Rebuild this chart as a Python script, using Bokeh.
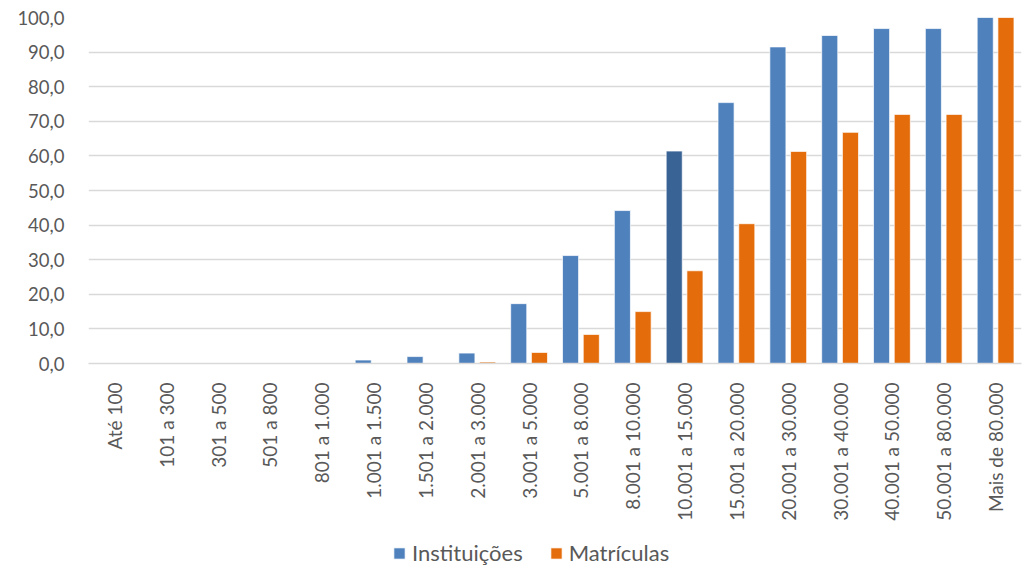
from bokeh.plotting import figure
from bokeh.layouts import column
from bokeh.models import (ColumnDataSource, FactorRange, Legend, LegendItem,
                          FixedTicker, Range1d)
from bokeh.transform import dodge
from bokeh.embed import file_html
from bokeh.resources import INLINE
from math import pi

categories = ["Até 100", "101 a 300", "301 a 500", "501 a 800", "801 a 1.000",
              "1.001 a 1.500", "1.501 a 2.000", "2.001 a 3.000", "3.001 a 5.000",
              "5.001 a 8.000", "8.001 a 10.000", "10.001 a 15.000",
              "15.001 a 20.000", "20.001 a 30.000", "30.001 a 40.000",
              "40.001 a 50.000", "50.001 a 80.000", "Mais de 80.000"]
instituicoes = [0.0, 0.0, 0.0, 0.0, 0.0, 1.0, 2.0, 3.0, 17.3, 31.2, 44.2, 61.4,
                75.4, 91.5, 94.8, 96.8, 96.8, 100.0]
matriculas = [0.0, 0.0, 0.0, 0.0, 0.0, 0.0, 0.1, 0.4, 3.2, 8.4, 15.0, 26.8,
              40.4, 61.3, 66.8, 72.0, 72.0, 100.0]
highlight = "10.001 a 15.000"
y_ticks = [0, 10, 20, 30, 40, 50, 60, 70, 80, 90, 100]
series_names = ["Instituições", "Matrículas"]

BLUE = "#4f81bd"
DARK = "#386394"
ORANGE = "#e46c0a"
GREY_TXT = "#595959"
FONT = "Lato"

inst_colors = [DARK if c == highlight else BLUE for c in categories]
src = ColumnDataSource(dict(cat=categories, inst=instituicoes, mat=matriculas,
                            inst_color=inst_colors))


def add_bars(fig):
    a = fig.vbar(x=dodge("cat", -0.2, range=fig.x_range), top="inst", width=0.31,
                 source=src, fill_color="inst_color", line_color="white",
                 line_alpha=0.7, line_width=1)
    b = fig.vbar(x=dodge("cat", 0.2, range=fig.x_range), top="mat", width=0.31,
                 source=src, fill_color=ORANGE, line_color="white",
                 line_alpha=0.7, line_width=1)
    return a, b


p = figure(x_range=FactorRange(*categories), y_range=(0, 100),
           width=1032, height=530, output_backend="svg", toolbar_location=None,
           min_border_left=88, min_border_right=11, min_border_top=17,
           min_border_bottom=167)
p.x_range.range_padding = 0
add_bars(p)

p.outline_line_color = None
p.xgrid.grid_line_color = None
p.ygrid.grid_line_color = "#d9d9d9"
p.ygrid.grid_line_width = 1.5

p.yaxis.ticker = FixedTicker(ticks=y_ticks)
p.yaxis.major_label_overrides = {t: f"{t:.1f}".replace(".", ",") for t in y_ticks}
p.yaxis.axis_line_color = None
p.yaxis.major_tick_line_color = None
p.yaxis.minor_tick_line_color = None
p.yaxis.major_label_standoff = 18
p.yaxis.major_label_text_font = FONT
p.yaxis.major_label_text_font_size = "18.5px"
p.yaxis.major_label_text_color = GREY_TXT

p.xaxis.axis_line_color = "#d9d9d9"
p.xaxis.axis_line_width = 1.5
p.xaxis.major_tick_line_color = None
p.xaxis.minor_tick_line_color = None
p.xaxis.major_label_orientation = pi / 2
p.xaxis.major_label_standoff = 13
p.xaxis.major_label_text_font = FONT
p.xaxis.major_label_text_font_size = "19px"
p.xaxis.major_label_text_color = GREY_TXT

# legend strip below the chart (its bars lie outside its y range, so only the legend shows)
lg = figure(x_range=FactorRange(*categories), y_range=Range1d(1000, 1001),
            width=1032, height=42, output_backend="svg", toolbar_location=None,
            min_border=0, x_axis_type=None, y_axis_type=None)
lg.x_range.range_padding = 0
lg.outline_line_color = None
lg.grid.grid_line_color = None
d1, d2 = add_bars(lg)
legend = Legend(items=[LegendItem(label=series_names[0], renderers=[d1], index=0),
                       LegendItem(label=series_names[1], renderers=[d2], index=0)],
                location=(304, 6), orientation="horizontal",
                glyph_width=14, glyph_height=14, label_standoff=6, spacing=26,
                padding=0, margin=0, border_line_color=None,
                background_fill_alpha=0, label_text_font=FONT,
                label_text_font_size="22px", label_text_color=GREY_TXT)
lg.add_layout(legend, "center")

layout = column(p, lg, spacing=0)
open("out.html", "w").write(file_html(layout, INLINE))
